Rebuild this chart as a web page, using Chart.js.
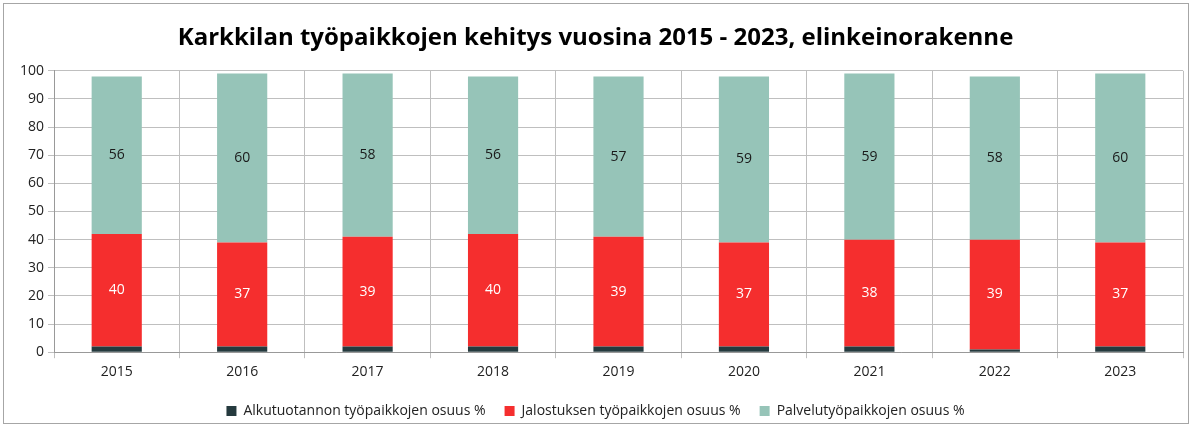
<!DOCTYPE html>
<html>
<head>
<meta charset="utf-8">
<script src="https://cdn.jsdelivr.net/npm/chart.js@4"></script>
<style>
  html, body { margin: 0; padding: 0; background: #fff; }
  #wrap { width: 1192px; height: 428px; }
</style>
</head>
<body>
<div id="wrap"><canvas id="myChart" width="1192" height="428"></canvas></div>
<script>
const years = ["2015", "2016", "2017", "2018", "2019", "2020", "2021", "2022", "2023"];
const alkutuotanto = [2, 2, 2, 2, 2, 2, 2, 1, 2];
const jalostus = [40, 37, 39, 40, 39, 37, 38, 39, 37];
const palvelut = [56, 60, 58, 56, 57, 59, 59, 58, 60];
const yTicks = [0, 10, 20, 30, 40, 50, 60, 70, 80, 90, 100];

Chart.defaults.font.family = "'Open Sans', 'Liberation Sans', sans-serif";
Chart.defaults.font.size = 14;
Chart.defaults.color = "#222";

// frame round the whole chart
const frame = {
    id: "frame",
    beforeDraw(chart) {
        const c = chart.ctx;
        c.save();
        c.fillStyle = "#fff";
        c.fillRect(0, 0, chart.width, chart.height);
        c.strokeStyle = "#a6a6a6";
        c.lineWidth = 1;
        c.strokeRect(3.5, 3.5, chart.width - 7, chart.height - 8);
        c.restore();
    },
};

// value labels inside the red and teal bars
const barLabels = {
    id: "barLabels",
    afterDatasetsDraw(chart) {
        const c = chart.ctx;
        c.save();
        c.font = "14px 'Open Sans', sans-serif";
        c.textAlign = "center";
        c.textBaseline = "middle";
        [1, 2].forEach((di) => {
            const meta = chart.getDatasetMeta(di);
            c.fillStyle = di === 1 ? "#fff" : "#1a1a1a";
            meta.data.forEach((bar, i) => {
                const v = chart.data.datasets[di].data[i];
                c.fillText(v, bar.x, (bar.y + bar.base) / 2);
            });
        });
        c.restore();
    },
};

new Chart(document.getElementById("myChart"), {
    type: "bar",
    data: {
        labels: years,
        datasets: [
            { label: "Alkutuotannon työpaikkojen osuus %", data: alkutuotanto, backgroundColor: "#253a3e" },
            { label: "Jalostuksen työpaikkojen osuus %", data: jalostus, backgroundColor: "#f52e2e" },
            { label: "Palvelutyöpaikkojen osuus %", data: palvelut, backgroundColor: "#96c4b8" },
        ],
    },
    options: {
        responsive: false,
        animation: false,
        layout: { padding: { left: 8, right: 9, top: 12, bottom: 0 } },
        datasets: { bar: { categoryPercentage: 1, barPercentage: 0.4 } },
        plugins: {
            title: {
                display: true,
                text: "Karkkilan työpaikkojen kehitys vuosina 2015 - 2023, elinkeinorakenne",
                color: "#000",
                font: { size: 24, weight: "bold" },
                padding: { top: 12, bottom: 18 },
            },
            legend: {
                position: "bottom",
                labels: { boxWidth: 10, boxHeight: 10, padding: 19, color: "#222", font: { size: 14 } },
            },
            tooltip: { enabled: false },
        },
        scales: {
            x: {
                stacked: true,
                grid: { color: "#bfbfbf", offset: true, tickLength: 6, drawTicks: true },
                border: { color: "#999" },
                ticks: { padding: 5 },
            },
            y: {
                stacked: true,
                min: 0,
                max: 100,
                afterBuildTicks(axis) {
                    axis.ticks = yTicks.map((v) => ({ value: v }));
                },
                afterFit(axis) {
                    axis.width = 46;
                },
                grid: { color: "#bfbfbf", tickLength: 6 },
                border: { color: "#999" },
                ticks: { padding: 4 },
            },
        },
    },
    plugins: [frame, barLabels],
});
</script>
</body>
</html>
